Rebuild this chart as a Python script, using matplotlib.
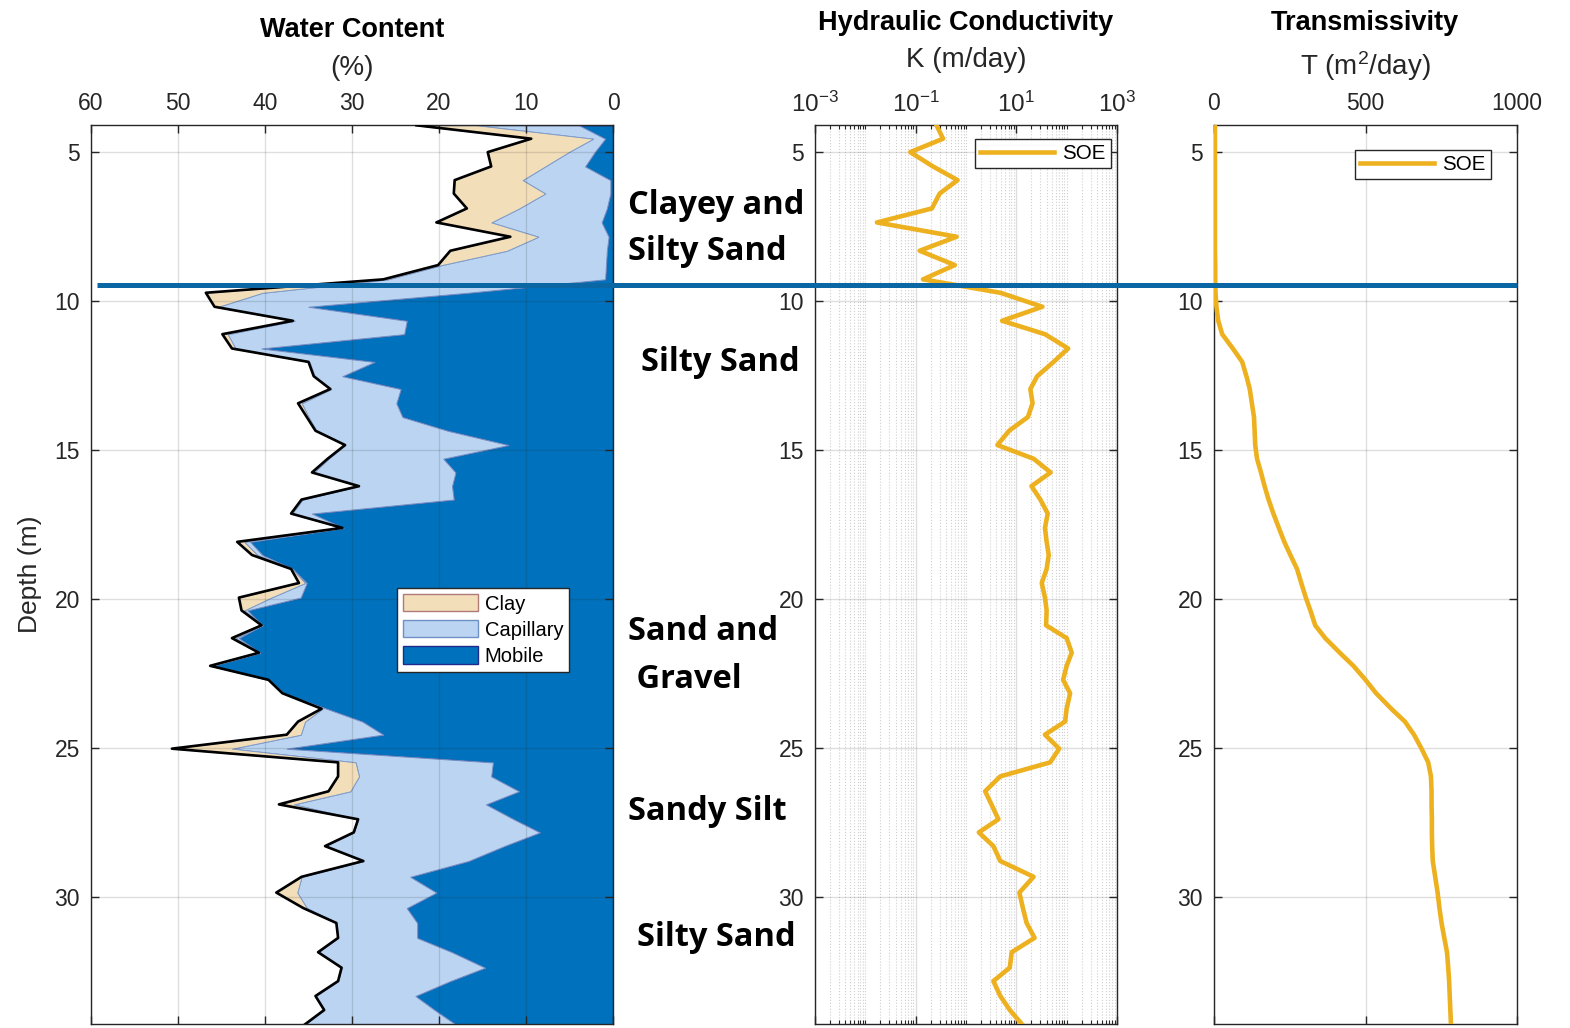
import matplotlib
matplotlib.use("Agg")
import matplotlib.pyplot as plt
from matplotlib.lines import Line2D
from matplotlib.patches import Patch
from matplotlib.ticker import FixedLocator, FixedFormatter, NullFormatter

plt.rcParams['font.family'] = ['Liberation Sans', 'DejaVu Sans']
plt.rcParams['mathtext.fontset'] = 'custom'
plt.rcParams['mathtext.rm'] = 'Liberation Sans'
plt.rcParams['mathtext.it'] = 'Liberation Sans:italic'
plt.rcParams['mathtext.bf'] = 'Liberation Sans:bold'

# ---------------- data ----------------
depth = [4.10, 4.55, 5.00, 5.48, 5.94, 6.39, 6.89, 7.36, 7.84, 8.31, 8.79, 9.27, 9.72,
         10.19, 10.66, 11.11, 11.59, 12.04, 12.52, 12.95, 13.43, 13.89, 14.35, 14.83,
         15.29, 15.75, 16.21, 16.66, 17.13, 17.61, 18.08, 18.52, 18.99, 19.46, 19.95,
         20.38, 20.88, 21.31, 21.80, 22.24, 22.71, 23.16, 23.68, 24.11, 24.55, 25.02,
         25.48, 25.95, 26.45, 26.89, 27.39, 27.83, 28.29, 28.79, 29.32, 29.85, 30.37,
         30.87, 31.37, 31.85, 32.37, 32.82, 33.32, 33.79, 34.27]

# water content (%) per depth: total, capillary+mobile, mobile
total_water = [22.6, 9.4, 14.4, 14.0, 18.2, 18.3, 16.8, 20.3, 11.8, 18.7, 20.1, 26.4, 46.8,
               45.8, 36.8, 44.9, 43.8, 35.0, 34.4, 32.5, 36.2, 35.2, 34.2, 30.8, 32.8, 34.6,
               29.2, 35.8, 37.0, 31.1, 43.2, 41.5, 37.0, 36.1, 43.0, 42.7, 40.4, 43.8, 40.7,
               46.3, 39.6, 38.0, 33.5, 36.2, 37.5, 50.7, 31.6, 31.6, 32.7, 38.4, 29.3, 29.8,
               33.1, 28.7, 35.8, 38.7, 35.6, 31.8, 31.6, 33.9, 31.2, 31.6, 34.2, 33.2, 35.4]
free_water = [15.7, 2.3, 5.1, 7.8, 10.4, 7.8, 10.8, 14.0, 8.6, 12.2, 19.7, 25.9, 40.3,
              45.4, 36.6, 44.3, 43.4, 34.9, 34.3, 32.4, 35.8, 35.0, 34.1, 30.8, 32.7, 34.4,
              29.2, 35.7, 36.9, 31.0, 42.4, 40.9, 36.9, 35.4, 39.3, 42.4, 40.3, 43.4, 40.6,
              46.2, 39.5, 37.9, 33.4, 35.4, 35.9, 43.8, 29.6, 29.2, 30.2, 36.7, 29.3, 29.8,
              33.1, 28.7, 35.8, 36.3, 35.2, 31.8, 31.6, 33.9, 31.2, 31.6, 34.2, 33.2, 35.4]
mobile_water = [3.9, 0.9, 2.1, 3.2, 0.3, 0.3, 0.7, 1.3, 0.5, 0.7, 0.8, 0.9, 16.6,
                35.0, 23.7, 24.0, 40.4, 27.4, 31.1, 24.4, 24.9, 24.2, 19.0, 12.0, 19.5, 18.1,
                18.5, 18.3, 34.6, 31.0, 41.7, 40.3, 36.8, 35.2, 35.9, 42.0, 40.3, 43.0, 40.6,
                46.1, 39.5, 37.9, 32.9, 28.8, 26.4, 37.5, 13.8, 14.0, 10.8, 14.6, 11.4, 8.4,
                12.5, 16.6, 23.3, 20.3, 23.7, 22.5, 22.5, 18.5, 14.7, 18.7, 22.7, 20.5, 18.1]

# hydraulic conductivity (m/day)
K_soe = [0.26, 0.35, 0.078, 0.22, 0.68, 0.30, 0.21, 0.017, 0.65, 0.12, 0.60, 0.14, 4.8,
         33, 5.2, 37, 107, 55, 26, 19, 21, 17, 7.2, 4.2, 22, 48,
         20, 30, 42, 37, 40, 44, 40, 32, 37, 40, 39, 100, 126,
         100, 85, 117, 100, 93, 37, 71, 47, 4.8, 2.4, 3.2, 4.4, 1.8,
         3.5, 4.8, 22, 11.5, 13.5, 16, 23, 8.1, 7.4, 3.5, 4.8, 7.4, 13]

# transmissivity (m^2/day)
T_soe = [3, 3, 3, 3, 3, 3, 3, 3, 3, 3, 4, 4, 5,
         8, 14, 27, 62, 93, 107, 118, 125, 132, 134, 136, 142, 155,
         167, 180, 196, 214, 232, 252, 274, 288, 303, 318, 334, 367, 415,
         460, 500, 535, 585, 630, 660, 685, 707, 716, 718, 718, 719, 719,
         720, 722, 730, 738, 744, 751, 760, 769, 773, 776, 778, 780, 782]

water_table = 9.45
depth_ticks = [5, 10, 15, 20, 25, 30]
wc_ticks = [0, 10, 20, 30, 40, 50, 60]
k_ticks = [1e-3, 1e-1, 1e1, 1e3]
k_ticklabels = ['$10^{-3}$', '$10^{-1}$', '$10^{1}$', '$10^{3}$']
t_ticks = [0, 500, 1000]

layers = [("Clayey and", 628, 206), ("Silty Sand", 628, 252),
          ("Silty Sand", 641, 362),
          ("Sand and", 628, 632), (" Gravel", 628, 679),
          ("Sandy Silt", 628, 812),
          ("Silty Sand", 637, 937)]

# ---------------- styling ----------------
C_CLAY = '#F3DEBA'
C_CAP = '#BAD4F2'
C_MOB = '#0072BD'
C_SOE = '#EDB120'
C_WT = '#0B67A3'
AX_COL = '#262626'

W, H = 1570, 1028
fig = plt.figure(figsize=(W / 100, H / 100), dpi=100)


def rect(l, t, r, b):
    return [l / W, 1 - b / H, (r - l) / W, (b - t) / H]


def fx(px):
    return px / W


def fy(py):
    return 1 - py / H


def style_axes(ax):
    for s in ax.spines.values():
        s.set_color(AX_COL)
        s.set_linewidth(1.0)
    ax.tick_params(which='both', direction='in', top=True, bottom=True,
                   left=True, right=True, labeltop=True, labelbottom=False,
                   labelleft=True, labelright=False, colors=AX_COL,
                   labelcolor=AX_COL, labelsize=16.5)
    ax.tick_params(which='major', length=6, width=1.0, pad=7)
    ax.tick_params(axis='y', which='major', pad=8)
    ax.tick_params(which='minor', length=3, width=0.8)
    ax.xaxis.set_ticks_position('both')
    ax.set_ylim(34.26, 4.09)
    ax.set_yticks(depth_ticks)
    ax.grid(True, which='major', color=AX_COL, alpha=0.15, linewidth=1.0)
    ax.set_axisbelow(False)


# ---- panel 1 : water content ----
ax1 = fig.add_axes(rect(91, 125, 613, 1024))
ax1.fill_betweenx(depth, 0, mobile_water, facecolor=C_MOB, edgecolor='#1F2A8C',
                  linewidth=0.8, zorder=1)
ax1.fill_betweenx(depth, mobile_water, free_water, facecolor=C_CAP, edgecolor='#6F90C4',
                  linewidth=0.8, zorder=1.1)
ax1.fill_betweenx(depth, free_water, total_water, facecolor=C_CLAY, edgecolor='#7F9BC8',
                  linewidth=0.6, zorder=1.2)
ax1.plot(total_water, depth, color='black', linewidth=1.9, zorder=3)
ax1.set_xlim(60, 0)
ax1.set_xticks(wc_ticks)
style_axes(ax1)
ax1.set_ylabel('Depth (m)', fontsize=19, color=AX_COL, labelpad=9)
handles = [Patch(facecolor=C_CLAY, edgecolor='#B07A78', linewidth=1.0, label='Clay'),
           Patch(facecolor=C_CAP, edgecolor='#6F90C4', linewidth=1.0, label='Capillary'),
           Patch(facecolor=C_MOB, edgecolor='#1F2A8C', linewidth=1.0, label='Mobile')]
leg1 = ax1.legend(handles=handles, loc='upper left',
                  bbox_to_anchor=(fx(397), fy(588)), bbox_transform=fig.transFigure,
                  fontsize=14.5, frameon=True, fancybox=False, framealpha=1,
                  edgecolor=AX_COL, borderaxespad=0, borderpad=0.3,
                  handlelength=3.7, handleheight=0.95, handletextpad=0.35,
                  labelspacing=0.32)
leg1.get_frame().set_linewidth(1.0)
leg1.set_zorder(5)

# ---- panel 2 : hydraulic conductivity ----
ax2 = fig.add_axes(rect(815, 125, 1117, 1024))
ax2.plot(K_soe, depth, color=C_SOE, linewidth=3.3, label='SOE', zorder=3)
ax2.set_xscale('log')
ax2.set_xlim(1e-3, 1e3)
style_axes(ax2)
ax2.xaxis.set_major_locator(FixedLocator(k_ticks))
ax2.xaxis.set_major_formatter(FixedFormatter(k_ticklabels))
ax2.tick_params(axis='x', which='major', labelsize=17.5, pad=6)
minor = [m * 10.0 ** e for e in range(-3, 3) for m in range(1, 10)
         if not (m == 1 and (10.0 ** e) in k_ticks)]
ax2.xaxis.set_minor_locator(FixedLocator(minor))
ax2.xaxis.set_minor_formatter(NullFormatter())
ax2.grid(True, which='minor', axis='x', color=AX_COL, alpha=0.22,
         linestyle=':', linewidth=0.8)
ax2.grid(True, which='major', color=AX_COL, alpha=0.15, linewidth=1.0)
ax2.tick_params(axis='y', which='minor', left=False, right=False)
leg2 = ax2.legend(loc='upper left', bbox_to_anchor=(fx(975), fy(139)),
                  bbox_transform=fig.transFigure, fontsize=14.8, frameon=True,
                  fancybox=False, framealpha=1, edgecolor=AX_COL, borderaxespad=0,
                  borderpad=0.25, handlelength=3.6, handletextpad=0.4)
leg2.get_frame().set_linewidth(1.0)

# ---- panel 3 : transmissivity ----
ax3 = fig.add_axes(rect(1214, 125, 1517, 1024))
ax3.plot(T_soe, depth, color=C_SOE, linewidth=3.3, label='SOE', zorder=3)
ax3.set_xlim(0, 1000)
ax3.set_xticks(t_ticks)
style_axes(ax3)
leg3 = ax3.legend(loc='upper left', bbox_to_anchor=(fx(1355), fy(150)),
                  bbox_transform=fig.transFigure, fontsize=14.8, frameon=True,
                  fancybox=False, framealpha=1, edgecolor=AX_COL, borderaxespad=0,
                  borderpad=0.25, handlelength=3.6, handletextpad=0.4)
leg3.get_frame().set_linewidth(1.0)

# ---- headings ----
heads = [("Water Content", "(%)", 352, 37, 75),
         ("Hydraulic Conductivity", "K (m/day)", 966, 30, 67),
         ("Transmissivity", "T (m$^2$/day)", 1365, 30, 75)]
for title, unit, cx, ty, uy in heads:
    fig.text(fx(cx), fy(ty), title, ha='center', va='baseline', fontsize=19.5,
             fontweight='bold', color='black')
    fig.text(fx(cx), fy(uy), unit, ha='center', va='baseline', fontsize=20,
             color=AX_COL)

# ---- lithology labels ----
for txt, x, y in layers:
    fig.text(fx(x), fy(y), txt, ha='left', va='center', fontsize=23.5,
             fontweight='bold', family=['Open Sans', 'DejaVu Sans'], color='black')

# ---- water table across all panels ----
y_wt = ax1.transData.transform((0, water_table))[1] / H
fig.add_artist(Line2D([fx(97), fx(1517)], [y_wt, y_wt], color=C_WT,
                      linewidth=3.6, zorder=10, solid_capstyle='butt'))

fig.savefig('out.png', dpi=100)
